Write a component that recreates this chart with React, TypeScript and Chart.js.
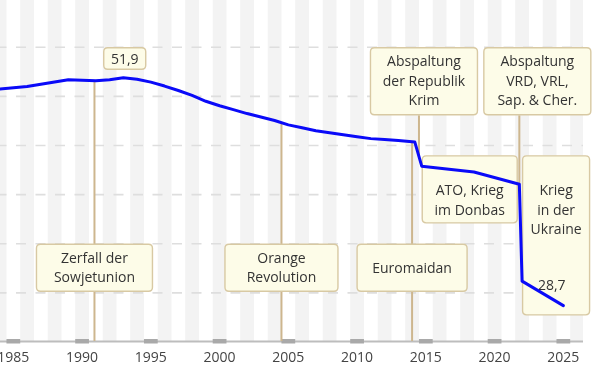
import React, { useEffect, useRef } from "react";
import { Chart, registerables } from "chart.js";
Chart.register(...registerables);

// ---- data ----
const years = [1984, 1986, 1989, 1991, 1992, 1993, 1994, 1995, 1996, 1997, 1998, 1999, 2000, 2001, 2002, 2003, 2004, 2005, 2006, 2007, 2008, 2009, 2010, 2011, 2012, 2013, 2014.2, 2014.7, 2018.5, 2021.8, 2022.0, 2025];
const population = [50.75, 51.0, 51.7, 51.6, 51.7, 51.9, 51.75, 51.45, 51.05, 50.6, 50.1, 49.5, 49.05, 48.65, 48.25, 47.9, 47.55, 47.1, 46.8, 46.5, 46.3, 46.1, 45.9, 45.7, 45.6, 45.5, 45.35, 42.9, 42.3, 41.05, 31.2, 28.7];
const tickYears = [1985, 1990, 1995, 2000, 2005, 2010, 2015, 2020, 2025];
const gridValues = [30, 35, 40, 45, 50, 55];
const eventYears = [1990.9, 2004.5, 2014.0, 2014.5, 2021.8, 2014.7, 2022.0];
const eventLabels = [
  ["Zerfall der", "Sowjetunion"],
  ["Orange", "Revolution"],
  ["Euromaidan"],
  ["Abspaltung", "der Republik", "Krim"],
  ["Abspaltung", "VRD, VRL,", "Sap. & Cher."],
  ["ATO, Krieg", "im Donbas"],
  ["Krieg", "in der", "Ukraine"],
];

// ---- layout of annotation boxes (pixels relative to anchor) ----
const boxLayout = [
  { dx: null, w: 117, topValue: 35, h: 48, line: "data-axis", textTop: 14 },
  { dx: null, w: 114, topValue: 35, h: 48, line: "data-axis", textTop: 14 },
  { dx: null, w: 111, topValue: 35, h: 48, line: "data-axis", textTop: 24 },
  { dx: -49, w: 108, topValue: 55, h: 68, line: "box-data", textTop: 14 },
  { dx: -36, w: 108, topValue: 55, h: 68, line: "box-data", textTop: 14 },
  { dx: 0, w: 96, topValue: 44, h: 68, line: "none", textTop: 35 },
  { dx: 0, w: 68, topValue: 44, h: 160, line: "none", textTop: 35 },
];

const X_MIN = 1984.03;
const X_MAX = 2026.43;
const Y_MIN = 25;
const Y_MAX = 59.81;
const FONT = '14px "Open Sans"';
const LINE_H = 19.3;

const fmt = (v: number) => v.toFixed(1).replace(".", ",");

function dataAt(yr: number) {
  for (let i = 0; i < years.length - 1; i++) {
    if (yr >= years[i] && yr <= years[i + 1]) {
      const t = (yr - years[i]) / (years[i + 1] - years[i]);
      return population[i] + t * (population[i + 1] - population[i]);
    }
  }
  return population[population.length - 1];
}

function roundRect(ctx: CanvasRenderingContext2D, x: number, y: number, w: number, h: number, r: number) {
  ctx.beginPath();
  ctx.moveTo(x + r, y);
  ctx.lineTo(x + w - r, y);
  ctx.quadraticCurveTo(x + w, y, x + w, y + r);
  ctx.lineTo(x + w, y + h - r);
  ctx.quadraticCurveTo(x + w, y + h, x + w - r, y + h);
  ctx.lineTo(x + r, y + h);
  ctx.quadraticCurveTo(x, y + h, x, y + h - r);
  ctx.lineTo(x, y + r);
  ctx.quadraticCurveTo(x, y, x + r, y);
  ctx.closePath();
}

function drawBox(ctx: CanvasRenderingContext2D, x: number, y: number, w: number, h: number) {
  roundRect(ctx, x + 0.5, y + 0.5, w - 1, h - 1, 4);
  ctx.fillStyle = "#fdfce8";
  ctx.fill();
  ctx.strokeStyle = "#d8c9a3";
  ctx.lineWidth = 1.4;
  ctx.stroke();
}

const bgPlugin = {
  id: "bg",
  beforeDatasetsDraw(chart: any) {
    const { ctx, chartArea: ca, scales } = chart;
    const x = scales.x;
    const y = scales.y;
    ctx.save();
    // year stripes
    ctx.fillStyle = "#f3f3f3";
    for (let yr = Math.floor(X_MIN); yr <= Math.ceil(X_MAX); yr++) {
      if (yr % 2 !== 0) continue;
      const l = Math.max(ca.left, x.getPixelForValue(yr - 0.5));
      const r = Math.min(ca.right, x.getPixelForValue(yr + 0.5));
      if (r > l) ctx.fillRect(l, ca.top, r - l, ca.bottom - ca.top);
    }
    // dashed grid
    ctx.strokeStyle = "#dedede";
    ctx.lineWidth = 1.6;
    ctx.setLineDash([10, 9.5]);
    ctx.lineDashOffset = 3.5;
    gridValues.forEach((v) => {
      const py = y.getPixelForValue(v);
      ctx.beginPath();
      ctx.moveTo(ca.left, py);
      ctx.lineTo(ca.right, py);
      ctx.stroke();
    });
    ctx.setLineDash([]);
    // axis line + tick bars
    const ay = y.getPixelForValue(Y_MIN);
    ctx.fillStyle = "#bdbdbd";
    ctx.fillRect(ca.left, ay - 1.5, ca.right - ca.left, 2);
    ctx.fillStyle = "#a9a9a9";
    tickYears.forEach((t) => {
      const l = x.getPixelForValue(t - 0.5);
      const r = x.getPixelForValue(t + 0.5);
      ctx.fillRect(l, ay - 3, r - l, 4.5);
    });
    // event lines
    ctx.strokeStyle = "#cdb68e";
    ctx.lineWidth = 2;
    eventYears.forEach((ev, i) => {
      const L = boxLayout[i];
      const px = x.getPixelForValue(ev);
      const dy = y.getPixelForValue(dataAt(ev));
      ctx.beginPath();
      if (L.line === "data-axis") {
        ctx.moveTo(px, dy);
        ctx.lineTo(px, ay - 1);
      } else if (L.line === "box-data") {
        const top = y.getPixelForValue(L.topValue);
        ctx.moveTo(px, top + L.h);
        ctx.lineTo(px, dy);
      }
      ctx.stroke();
    });
    // boxes
    ctx.font = FONT;
    ctx.textAlign = "center";
    ctx.textBaseline = "alphabetic";
    eventYears.forEach((ev, i) => {
      const L = boxLayout[i];
      const px = x.getPixelForValue(ev);
      const left = L.dx === null ? px - L.w / 2 : px + L.dx;
      const top = y.getPixelForValue(L.topValue);
      drawBox(ctx, left, top, L.w, L.h);
      ctx.fillStyle = "#333333";
      eventLabels[i].forEach((s, k) => {
        ctx.fillText(s, left + L.w / 2, top + L.textTop + k * LINE_H + 5);
      });
    });
    // max label
    let mi = 0;
    population.forEach((v, i) => { if (v > population[mi]) mi = i; });
    const mx = x.getPixelForValue(years[mi]) + 1.4;
    const mTop = y.getPixelForValue(55);
    drawBox(ctx, mx - 21.5, mTop, 43, 22.5);
    ctx.fillStyle = "#333333";
    ctx.fillText(fmt(population[mi]), mx, mTop + 16.5);
    // last value label
    const li = population.length - 1;
    const lx = x.getPixelForValue(years[li]) - 11.6;
    const ly = y.getPixelForValue(population[li]) - 21 + 5;
    ctx.fillText(fmt(population[li]), lx, ly);
    ctx.restore();
  },
  afterDraw(chart: any) {
    const { ctx, scales } = chart;
    const x = scales.x;
    const y = scales.y;
    const ay = y.getPixelForValue(Y_MIN);
    ctx.save();
    ctx.font = FONT;
    ctx.textAlign = "center";
    ctx.textBaseline = "alphabetic";
    ctx.fillStyle = "#444444";
    tickYears.forEach((t) => {
      ctx.fillText(String(t), x.getPixelForValue(t), ay + 20);
    });
    ctx.restore();
  },
};

export default function App() {
  const ref = useRef<HTMLCanvasElement | null>(null);
  useEffect(() => {
    document.body.style.margin = "0";
    if (!ref.current) return;
    const chart = new Chart(ref.current, {
      type: "line",
      data: {
        datasets: [
          {
            data: years.map((yr, i) => ({ x: yr, y: population[i] })),
            borderColor: "#0a0af8",
            borderWidth: 3,
            pointRadius: 0,
            tension: 0,
            borderJoinStyle: "round",
            borderCapStyle: "round",
          },
        ],
      },
      options: {
        responsive: false,
        animation: false,
        layout: { padding: { left: 0, top: 0, right: 17, bottom: 39 } },
        plugins: { legend: { display: false }, tooltip: { enabled: false } },
        scales: {
          x: { type: "linear", min: X_MIN, max: X_MAX, display: false },
          y: { type: "linear", min: Y_MIN, max: Y_MAX, display: false },
        },
      },
      plugins: [bgPlugin],
    } as any);
    return () => chart.destroy();
  }, []);
  return (
    <div style={{ position: "absolute", left: 0, top: 0, width: 600, height: 381 }}>
      <canvas ref={ref} width={600} height={381} style={{ display: "block" }} />
    </div>
  );
}
